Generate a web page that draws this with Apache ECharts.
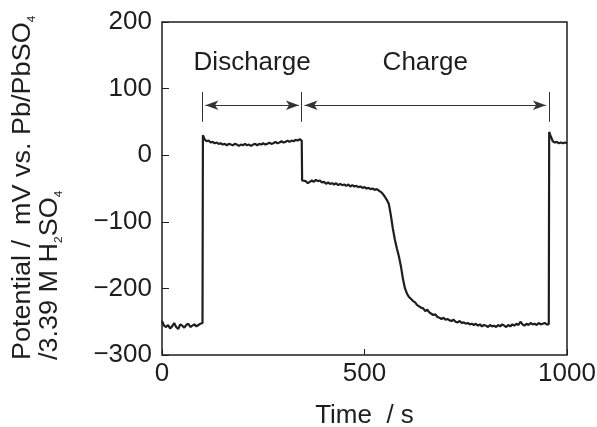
<!DOCTYPE html>
<html>
<head>
<meta charset="utf-8">
<script src="https://cdn.jsdelivr.net/npm/echarts@6/dist/echarts.min.js"></script>
<style>
html,body{margin:0;padding:0;background:#fff;}
#chart{width:597px;height:427px;}
</style>
</head>
<body>
<div id="chart"></div>
<script>
// ---- data ----
var timeS = [
  0,5,10,15,20,25,30,35,40,45,50,55,60,65,70,75,80,85,90,95,100,
  101,105,110,115,120,125,130,135,140,145,150,155,160,165,170,175,180,185,190,195,
  200,205,210,215,220,225,230,235,240,245,250,255,260,265,270,275,280,285,290,295,
  300,305,310,315,320,325,330,335,340,345,
  346,350,355,360,365,370,375,380,385,390,395,400,405,410,415,420,425,430,435,440,445,
  450,455,460,465,470,475,480,485,490,495,500,505,510,515,520,525,530,535,540,545,
  550,555,560,565,570,575,580,585,590,595,600,605,610,615,620,625,630,635,640,645,
  650,655,660,665,670,675,680,685,690,695,700,705,710,715,720,725,730,735,740,745,
  750,755,760,765,770,775,780,785,790,795,800,805,810,815,820,825,830,835,840,845,
  850,855,860,865,870,875,880,885,890,895,900,905,910,915,920,925,930,935,940,945,
  950,955,
  956,960,965,970,975,980,985,990,995,1000
];
var potentialMV = [
  -249,-256,-258,-255,-260,-257,-252,-258,-261,-254,-256,-259,-255,-253,-258,-256,-254,-257,-255,-253,-252,
  30,24,21,22,19,20,18,19,17,18,16,17,15,17,16,15,17,16,14,16,
  15,17,15,16,14,16,17,15,17,16,18,16,17,19,17,18,20,18,19,21,
  19,20,22,20,22,21,23,22,24,22,
  -38,-41,-39,-42,-40,-38,-40,-37,-39,-38,-41,-40,-43,-41,-43,-42,-44,-42,-45,-43,-45,
  -44,-46,-44,-47,-45,-47,-46,-48,-47,-49,-48,-50,-49,-51,-50,-52,-51,-53,-55,-58,
  -62,-67,-73,-90,-110,-127,-140,-152,-167,-186,-200,-208,-213,-216,-219,-221,-225,-227,-229,-230,
  -234,-232,-236,-238,-240,-239,-243,-244,-246,-244,-247,-246,-248,-249,-247,-250,-251,-249,-252,-251,
  -253,-252,-254,-253,-255,-253,-256,-254,-257,-255,-256,-258,-255,-257,-256,-258,-255,-257,-254,-256,
  -258,-255,-257,-254,-256,-253,-255,-250,-254,-256,-253,-255,-252,-254,-253,-255,-252,-254,-253,-252,
  -254,-254,
  35,28,21,19,20,18,19,18,19,18
];
var xTicks = [0, 500, 1000];
var yTicks = [-300, -200, -100, 0, 100, 200];
var eventTimes = [100, 345, 955];          // boundaries of the phases
var phaseLabels = ['Discharge', 'Charge'];
var markerRange = [50, 95];                  // mV extent of the boundary bars
var arrowLevel = 75;                         // mV level of the arrows
var labelLevel = 138;                        // mV level of the phase labels
var arrowGap = 7;                            // s gap between arrow tip and bar

var FONT = 'Liberation Sans, Arial, Helvetica, sans-serif';
var INK = '#1e1e1e';

var chart = echarts.init(document.getElementById('chart'), null, {renderer: 'canvas'});

var lineData = timeS.map(function (t, i) { return [t, potentialMV[i]]; });

var markLines = [];
eventTimes.forEach(function (t) {
  markLines.push([{coord: [t, markerRange[0]], symbol: 'none'}, {coord: [t, markerRange[1]], symbol: 'none'}]);
});
for (var i = 0; i < phaseLabels.length; i++) {
  markLines.push([
    {coord: [eventTimes[i] + arrowGap, arrowLevel], symbol: 'arrow'},
    {coord: [eventTimes[i + 1] - arrowGap, arrowLevel], symbol: 'arrow'}
  ]);
}
var markPoints = phaseLabels.map(function (name, i) {
  return {name: name, coord: [(eventTimes[i] + eventTimes[i + 1]) / 2, labelLevel]};
});

chart.setOption({
  animation: false,
  backgroundColor: '#fff',
  grid: {left: 162, right: 30, top: 22, bottom: 72, show: true, borderColor: INK, borderWidth: 1.5,
    backgroundColor: 'transparent', outerBoundsMode: 'none', containLabel: false},
  xAxis: {
    type: 'value', min: xTicks[0], max: xTicks[xTicks.length - 1], interval: xTicks[1] - xTicks[0],
    name: 'Time  / s', nameLocation: 'middle', nameGap: 48,
    nameTextStyle: {fontFamily: FONT, fontSize: 26, color: INK},
    axisLine: {show: false, onZero: false},
    axisTick: {show: true, inside: true, length: 6, lineStyle: {color: INK, width: 1}},
    axisLabel: {margin: 6, fontFamily: FONT, fontSize: 26, color: INK,
      formatter: function (v) { return String(v); }},
    splitLine: {show: false}
  },
  yAxis: {
    type: 'value', min: yTicks[0], max: yTicks[yTicks.length - 1], interval: yTicks[1] - yTicks[0],
    axisLine: {show: false, onZero: false},
    axisTick: {show: true, inside: true, length: 7, lineStyle: {color: INK, width: 1}},
    axisLabel: {margin: 10, fontFamily: FONT, fontSize: 26, color: INK,
      formatter: function (v) { return v < 0 ? '\u2212' + Math.abs(v) : String(v); }},
    splitLine: {show: false}
  },
  graphic: [{
    type: 'text', x: 10, y: 360, rotation: Math.PI / 2, scaleX: 1.08, scaleY: 1,
    style: {
      text: '{m|Potential /  mV vs. Pb/PbSO}{s|4}\n{m|/3.39 M H}{s|2}{m|SO}{s|4}',
      align: 'left', verticalAlign: 'top', fill: INK,
      rich: {
        m: {fontFamily: FONT, fontSize: 25, lineHeight: 27, fill: INK},
        s: {fontFamily: FONT, fontSize: 11, lineHeight: 4, verticalAlign: 'bottom', fill: INK}
      }
    }
  }],
  series: [{
    type: 'line', data: lineData, showSymbol: false, symbol: 'none',
    lineStyle: {color: INK, width: 2.2}, z: 3,
    markLine: {
      silent: true, animation: false,
      symbolSize: [7, 13],
      label: {show: false},
      lineStyle: {color: '#333', width: 1, type: 'solid'},
      data: markLines
    },
    markPoint: {
      silent: true, symbol: 'circle', symbolSize: 0,
      label: {show: true, position: 'inside', formatter: '{b}', fontFamily: FONT, fontSize: 26, color: INK},
      data: markPoints
    }
  }]
});
</script>
</body>
</html>
